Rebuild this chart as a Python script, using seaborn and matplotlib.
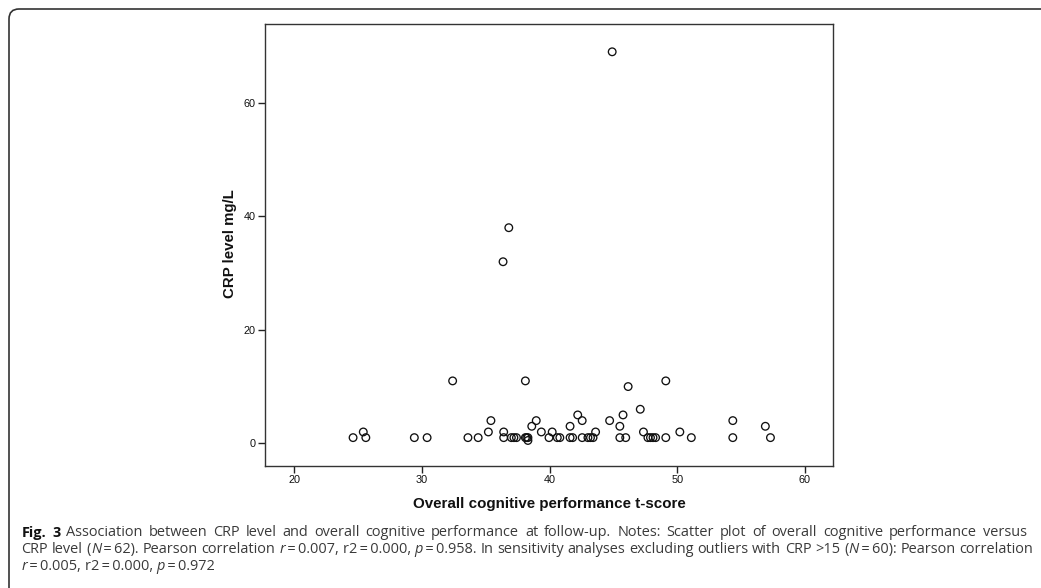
import re
import matplotlib
matplotlib.use("Agg")
import matplotlib.pyplot as plt
import seaborn as sns
import pandas as pd
from matplotlib.patches import FancyBboxPatch

# ---- data ----
t_score = [24.6, 25.4, 25.6, 29.4, 30.4, 32.4, 33.6, 34.4, 35.2, 35.4,
           36.35, 36.4, 36.4, 36.8, 37.0, 37.2, 37.4, 38.1, 38.1, 38.2,
           38.3, 38.3, 38.6, 38.95, 39.35, 39.95, 40.2, 40.6, 40.8, 41.6,
           41.6, 41.8, 42.2, 42.55, 42.55, 43.0, 43.2, 43.4, 43.6, 44.7,
           44.9, 45.5, 45.75, 45.5, 45.96, 46.15, 47.1, 47.35, 47.7, 47.9,
           48.1, 48.3, 49.1, 49.1, 50.2, 51.1, 54.35, 54.35, 56.9, 57.3]
crp = [1, 2, 1, 1, 1, 11, 1, 1, 2, 4,
       32, 2, 1, 38, 1, 1, 1, 11, 1, 1,
       1, 0.5, 3, 4, 2, 1, 2, 1, 1, 3,
       1, 1, 5, 4, 1, 1, 1, 1, 2, 4,
       69, 3, 5, 1, 1, 10, 6, 2, 1, 1,
       1, 1, 11, 1, 2, 1, 4, 1, 3, 1]
x_ticks = [20, 30, 40, 50, 60]
y_ticks = [0, 20, 40, 60]
x_label = "Overall cognitive performance t-score"
y_label = "CRP level mg/L"

EQ = "\u2009=\u2009"
caption_lines = [
    [("Fig. 3", "bold"), (" Association between CRP level and overall cognitive performance at follow-up. Notes: Scatter plot of overall cognitive performance versus", "normal")],
    [("CRP level (", "normal"), ("N", "italic"), (EQ + "62). Pearson correlation ", "normal"), ("r", "italic"),
     (EQ + "0.007, r2" + EQ + "0.000, ", "normal"), ("p", "italic"),
     (EQ + "0.958. In sensitivity analyses excluding outliers with CRP >15 (", "normal"), ("N", "italic"),
     (EQ + "60): Pearson correlation", "normal")],
    [("r", "italic"), (EQ + "0.005, r2" + EQ + "0.000, ", "normal"), ("p", "italic"), (EQ + "0.972", "normal")],
]
caption_targets = [1027, 1033, None]

df = pd.DataFrame({"t": t_score, "crp": crp})

sns.set_style("ticks")
plt.rcParams["font.family"] = ["Liberation Sans", "DejaVu Sans"]

W, H = 1041, 588
fig = plt.figure(figsize=(W / 100, H / 100), dpi=100)
fig.patch.set_facecolor("white")

def fx(px):
    return px / W

def fy(py):
    return 1 - py / H

left, right, top, bottom = 265, 833, 24, 466
ax = fig.add_axes([fx(left), fy(bottom), fx(right - left), (bottom - top) / H])

sns.scatterplot(data=df, x="t", y="crp", ax=ax, marker="o", s=30,
                fc="none", ec="#111111", linewidth=0.95, legend=False)

ax.set_xlim(17.7, 62.2)
ax.set_ylim(-4.0, 73.9)
ax.set_xticks(x_ticks)
ax.set_yticks(y_ticks)
ax.tick_params(axis="both", direction="out", length=5, width=1.0, color="#222222",
               labelsize=7.8, labelcolor="#111111", pad=1.5)
for side in ["left", "right", "top", "bottom"]:
    ax.spines[side].set_visible(True)
    ax.spines[side].set_color("#333333")
    ax.spines[side].set_linewidth(1.0)
ax.set_xlabel("")
ax.set_ylabel("")
ax.grid(False)

fig.text(fx((left + right) / 2), fy(504), x_label, ha="center", va="center",
         fontsize=10.9, fontweight="bold", color="#111111")
fig.text(fx(230), fy(244), y_label, ha="center", va="center",
         rotation=90, fontsize=10.8, fontweight="bold", color="#111111")

# outer border with rounded top-left corner
box = FancyBboxPatch((9, -40), 1200, (H - 9) + 40,
                     boxstyle="round,pad=0,rounding_size=10",
                     transform=None, fill=False, ec="#333333", lw=1.2)
fig.add_artist(box)

# caption with mixed styles, justified to the measured line ends
fig.canvas.draw()
renderer = fig.canvas.get_renderer()
fam = ["Open Sans", "DejaVu Sans"]

def style_kw(style, size):
    kw = dict(fontsize=size, color="#3a3a3a", va="center", ha="left", family=fam)
    if style == "bold":
        kw["fontweight"] = "bold"
        kw["color"] = "#111111"
    elif style == "italic":
        kw["fontstyle"] = "italic"
    return kw

def text_w(txt, style, size):
    t = fig.text(0, 0, txt, **style_kw(style, size))
    w = t.get_window_extent(renderer=renderer).width
    t.remove()
    return w

def space_w(style, size):
    return text_w("x x", style, size) - text_w("xx", style, size)

def pieces(runs):
    out = []
    for txt, style in runs:
        for p in re.split(r"( )", txt):
            if p:
                out.append((p, style))
    return out

def natural(runs, size):
    total = 0.0
    for p, style in pieces(runs):
        total += space_w(style, size) if p == " " else text_w(p, style, size)
    return total

x0 = 21.5
s0 = 10.0
sizes = []
for runs, tgt in zip(caption_lines, caption_targets):
    if tgt is not None:
        sizes.append(s0 * (tgt - x0) / natural(runs, s0))
cap_size = min(sizes)

line_y = [533, 549.5, 566]
for runs, ly, tgt in zip(caption_lines, line_y, caption_targets):
    pcs = pieces(runs)
    n_sp = sum(1 for p, _ in pcs if p == " ")
    extra = 0.0
    if tgt is not None and n_sp:
        extra = max(0.0, (tgt - x0) - natural(runs, cap_size)) / n_sp
    xpix = x0
    for p, style in pcs:
        if p == " ":
            xpix += space_w(style, cap_size) + extra
        else:
            t = fig.text(fx(xpix), fy(ly), p, **style_kw(style, cap_size))
            xpix += t.get_window_extent(renderer=renderer).width

fig.savefig("out.png", dpi=100)
